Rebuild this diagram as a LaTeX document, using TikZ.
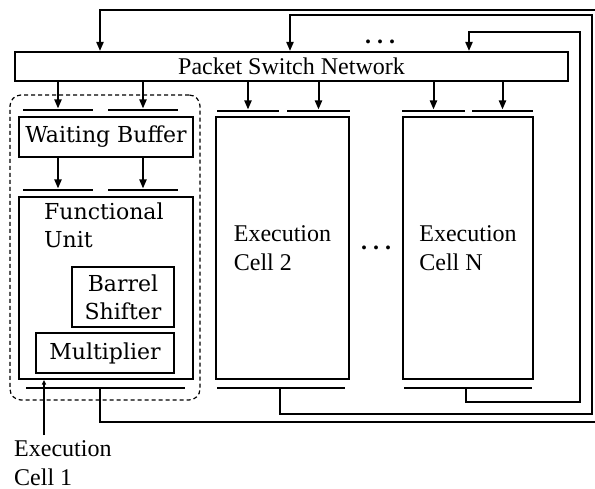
\documentclass[tikz,border=0pt]{standalone}
\usepackage{fontspec}
\setmainfont{Liberation Serif}
\newfontfamily\schfont{DejaVu Serif}
\usetikzlibrary{arrows.meta}
\tikzset{
  box/.style={draw, line width=2pt, inner sep=0pt},
  tms/.style={font=\fontsize{24}{29}\selectfont},
  sch/.style={font=\schfont\fontsize{22}{28}\selectfont},
  bar/.style={fill=black, inner sep=0pt, minimum height=2.6pt},
  dbox/.style={draw, dashed, line width=1.2pt, dash pattern=on 4pt off 3pt, rounded corners=11pt, inner sep=0pt},
  arr/.style={line width=2pt, -{Triangle[length=9pt,width=7pt]}},
  ptr/.style={line width=1.1pt, -{Triangle[length=4.5pt,width=4pt]}},
  dotsn/.style={font=\bfseries\fontsize{24}{24}\selectfont, inner sep=0pt}
}
\begin{document}
\begin{tikzpicture}[x=1pt,y=-1pt]
\fill[white] (0,0) rectangle (595,489);
\useasboundingbox (0,0) rectangle (595,489);

% Packet switch network
\node[box, minimum width=553pt, minimum height=29pt, tms] (psn) at (291.5,66.5) {Packet Switch Network};
\node[dotsn] (dtop) at (380,42) {.\hspace{6pt}.\hspace{6pt}.};

% Execution cell 1
\node[dbox, minimum width=190pt, minimum height=305pt] (ec1box) at (105,247.5) {};
\node[bar, minimum width=70pt] (i1a) at (58,110) {};
\node[bar, minimum width=70pt] (i1b) at (143,110) {};
\node[box, minimum width=174pt, minimum height=40pt, sch] (wb) at (106,137) {Waiting Buffer};
\node[bar, minimum width=70pt] (m1a) at (58,190) {};
\node[bar, minimum width=70pt] (m1b) at (143,190) {};
\node[box, minimum width=174pt, minimum height=182pt] (fu) at (106,288) {};
\node[sch, align=left, anchor=north west, inner sep=0pt] (fut) at (44,203) {Functional\\Unit};
\node[box, minimum width=102pt, minimum height=60pt, sch, align=center] (bs) at (123,297) {Barrel\\Shifter};
\node[box, minimum width=138pt, minimum height=40pt, sch] (mul) at (105,353) {Multiplier};
\node[bar, minimum width=159pt] (o1) at (105.5,388) {};

% Execution cell 2
\node[bar, minimum width=62pt] (i2a) at (248,111) {};
\node[bar, minimum width=63pt] (i2b) at (318.5,111) {};
\node[box, minimum width=133pt, minimum height=262pt, tms, align=left] (c2) at (282.5,248) {Execution\\Cell 2};
\node[bar, minimum width=128pt] (o2) at (281,388) {};

\node[dotsn] (dmid) at (376,248) {.\hspace{6pt}.\hspace{6pt}.};

% Execution cell N
\node[bar, minimum width=63pt] (iNa) at (433.5,111) {};
\node[bar, minimum width=61pt] (iNb) at (502.5,111) {};
\node[box, minimum width=130pt, minimum height=262pt, tms, align=left] (cN) at (468,248) {Execution\\Cell N};
\node[bar, minimum width=128pt] (oN) at (468,388) {};

% arrows from network to input bars
\draw[arr] (psn.south -| i1a) -- (i1a.north);
\draw[arr] (psn.south -| i1b) -- (i1b.north);
\draw[arr] (psn.south -| i2a) -- (i2a.north);
\draw[arr] (psn.south -| i2b) -- (i2b.north);
\draw[arr] (psn.south -| iNa) -- (iNa.north);
\draw[arr] (psn.south -| iNb) -- (iNb.north);
\draw[arr] (wb.south -| m1a) -- (m1a.north);
\draw[arr] (wb.south -| m1b) -- (m1b.north);

% feedback loops
\coordinate (L1a) at (100,422);
\coordinate (L1b) at (597,422);
\coordinate (L1c) at (597,10);
\coordinate (L1d) at (100,10);
\draw[arr] (o1 -| L1a) -- (L1a) -- (L1b) -- (L1c) -- (L1d) -- (psn.north -| L1d);

\coordinate (L2a) at (280,414);
\coordinate (L2b) at (592,414);
\coordinate (L2c) at (592,15);
\coordinate (L2d) at (290,15);
\draw[arr] (o2 -| L2a) -- (L2a) -- (L2b) -- (L2c) -- (L2d) -- (psn.north -| L2d);

\coordinate (LNa) at (466,402);
\coordinate (LNb) at (580,402);
\coordinate (LNc) at (580,32);
\coordinate (LNd) at (469,32);
\draw[arr] (oN -| LNa) -- (LNa) -- (LNb) -- (LNc) -- (LNd) -- (psn.north -| LNd);

% label of execution cell 1
\node[tms, align=left, anchor=north west, inner sep=0pt] (ec1) at (14,440) {Execution\\Cell 1};
\coordinate (pt) at (44,435);
\draw[ptr] (pt) -- (fu.south -| pt);
\end{tikzpicture}
\end{document}
